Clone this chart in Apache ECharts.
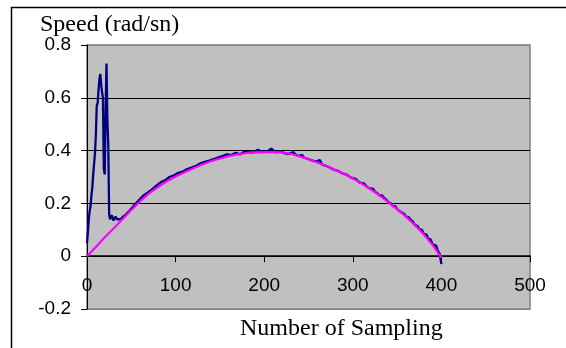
<!DOCTYPE html>
<html>
<head>
<meta charset="utf-8">
<script src="https://cdn.jsdelivr.net/npm/echarts@6/dist/echarts.min.js"></script>
<style>
  html, body { margin: 0; padding: 0; background: #fff; }
  #chart { width: 566px; height: 348px; }
</style>
</head>
<body>
<div id="chart"></div>
<script>
// measured speed (noisy) - sample index / value
const measuredX = [0, 1, 2, 3, 4, 5, 6, 7, 8, 9, 10, 11, 12, 13, 14, 15, 16, 17, 18, 19, 20, 21, 22, 23, 24, 25,
  26, 28, 30, 32, 34, 36, 38, 40, 43, 45, 48, 50, 53, 55, 58, 60, 63, 65, 68, 70, 73, 75, 78, 80, 83, 85, 88, 90,
  93, 95, 98, 100, 103, 105, 108, 110, 113, 115, 118, 120, 123, 125, 128, 130, 133, 135, 138, 140, 143, 145, 148, 150,
  153, 155, 158, 160, 163, 165, 168, 170, 173, 175, 178, 180, 183, 185, 188, 190, 193, 195, 198, 200, 203, 205, 208, 210,
  213, 215, 218, 220, 223, 225, 228, 230, 233, 235, 238, 240, 243, 245, 248, 250, 253, 255, 258, 260, 263, 265, 268, 270,
  273, 275, 278, 280, 283, 285, 288, 290, 293, 295, 298, 300, 303, 305, 308, 310, 313, 315, 318, 320, 323, 325, 328, 330,
  333, 335, 338, 340, 343, 345, 348, 350, 353, 355, 358, 360, 363, 365, 368, 370, 373, 375, 378, 380, 383, 385, 388, 390,
  392, 394, 396, 398, 400]
const measuredY = [0.05, 0.09, 0.14, 0.17, 0.19, 0.23, 0.26, 0.31, 0.35, 0.39, 0.46, 0.57, 0.58, 0.63, 0.67, 0.69, 0.65, 0.62, 0.6, 0.33, 0.31, 0.55, 0.73, 0.52, 0.42, 0.16,
  0.14, 0.155, 0.135, 0.15, 0.14, 0.145, 0.14, 0.148, 0.155, 0.16, 0.172, 0.178, 0.192, 0.195, 0.21, 0.21, 0.228, 0.226, 0.24, 0.24, 0.252, 0.252, 0.266, 0.264, 0.28, 0.277, 0.287, 0.285,
  0.3, 0.296, 0.306, 0.303, 0.316, 0.31, 0.32, 0.318, 0.33, 0.326, 0.336, 0.335, 0.342, 0.34, 0.352, 0.348, 0.357, 0.353, 0.362, 0.36, 0.368, 0.367, 0.374, 0.371,
  0.379, 0.376, 0.386, 0.381, 0.383, 0.386, 0.392, 0.388, 0.386, 0.39, 0.397, 0.392, 0.393, 0.396, 0.393, 0.394, 0.403, 0.397, 0.394, 0.398, 0.397, 0.394, 0.407, 0.4,
  0.393, 0.394, 0.398, 0.397, 0.39, 0.388, 0.388, 0.386, 0.394, 0.386, 0.38, 0.377, 0.383, 0.373, 0.37, 0.368, 0.364, 0.362, 0.358, 0.354, 0.364, 0.348, 0.344, 0.342,
  0.338, 0.334, 0.328, 0.326, 0.324, 0.318, 0.314, 0.31, 0.309, 0.302, 0.298, 0.294, 0.293, 0.288, 0.279, 0.274, 0.275, 0.266, 0.258, 0.254, 0.255, 0.244, 0.238, 0.23,
  0.23, 0.222, 0.213, 0.205, 0.2, 0.19, 0.19, 0.178, 0.17, 0.163, 0.16, 0.15, 0.148, 0.14, 0.13, 0.118, 0.115, 0.103, 0.1, 0.085, 0.082, 0.068, 0.062, 0.045,
  0.04, 0.04, 0.02, 0.01, -0.03]

// fitted reference curve
const fitX = [0, 10, 20, 30, 40, 50, 60, 70, 80, 90, 100, 110, 120, 130, 140, 150, 160, 170, 180, 190, 200,
  210, 220, 230, 240, 250, 260, 270, 280, 290, 300, 310, 320, 330, 340, 350, 360, 370, 380, 390, 400]
const fitY = [0, 0.035, 0.072, 0.105, 0.14, 0.175, 0.208, 0.238, 0.262, 0.284, 0.302, 0.318, 0.333, 0.347, 0.36, 0.37, 0.379, 0.386, 0.391, 0.393, 0.394,
  0.394, 0.393, 0.388, 0.378, 0.367, 0.355, 0.342, 0.327, 0.312, 0.295, 0.275, 0.254, 0.23, 0.205, 0.178, 0.15, 0.118, 0.083, 0.043, -0.005]

const xTicks = { min: 0, max: 500, interval: 100 }
const yTicks = { min: -0.2, max: 0.8, interval: 0.2 }

const chart = echarts.init(document.getElementById('chart'), null, { renderer: 'canvas' })

chart.setOption({
  backgroundColor: '#ffffff',
  animation: false,
  graphic: [
    { type: 'rect', left: 9, top: 5, shape: { width: 700, height: 500 },
      style: { fill: 'none', stroke: '#000', lineWidth: 1.5 }, silent: true }
  ],
  title: [
    { text: 'Speed (rad/sn)', left: 35, top: 8,
      textStyle: { fontFamily: 'Liberation Serif', fontSize: 24, fontWeight: 'normal', color: '#000' } },
    { text: 'Number of Sampling', left: 235, top: 312,
      textStyle: { fontFamily: 'Liberation Serif', fontSize: 24, fontWeight: 'normal', color: '#000' } }
  ],
  grid: {
    left: 87, top: 45, width: 443, height: 264,
    show: true, backgroundColor: '#c0c0c0', borderColor: '#808080', borderWidth: 1.5
  },
  xAxis: {
    type: 'value', min: xTicks.min, max: xTicks.max, interval: xTicks.interval,
    // axis sits on y = 0; offset lifts line, ticks and labels together
    offset: -52.8,
    axisLine: { onZero: false, lineStyle: { color: '#000', width: 1.5 } },
    axisTick: { show: true, inside: false, length: 6, lineStyle: { color: '#000' } },
    axisLabel: { color: '#000', fontFamily: 'Liberation Sans', fontSize: 19, margin: 20 },
    splitLine: { show: false }
  },
  yAxis: {
    type: 'value', min: yTicks.min, max: yTicks.max, interval: yTicks.interval,
    axisLine: { show: true, onZero: false, lineStyle: { color: '#000', width: 1 } },
    axisTick: { show: true, inside: false, length: 6, lineStyle: { color: '#000' } },
    axisLabel: { color: '#000', fontFamily: 'Liberation Sans', fontSize: 19, margin: 16,
      formatter: (v) => String(Math.round(v * 10) / 10) },
    splitLine: { show: true, lineStyle: { color: ['#808080', '#000', '#000', '#000', '#000', '#808080'], width: 1.2 } }
  },
  series: [
    {
      type: 'line', showSymbol: false, z: 2,
      data: measuredX.map((x, i) => [x, measuredY[i]]),
      lineStyle: { color: '#000080', width: 2.3 }
    },
    {
      type: 'line', showSymbol: false, z: 3,
      data: fitX.map((x, i) => [x, fitY[i]]),
      lineStyle: { color: '#ff00ff', width: 2.2 }
    }
  ]
})
</script>
</body>
</html>
